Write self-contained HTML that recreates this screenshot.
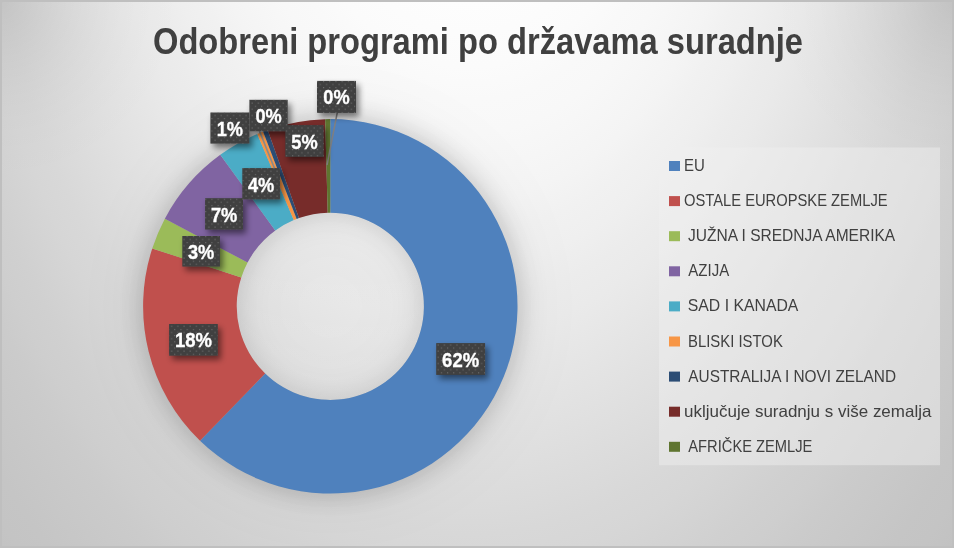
<!DOCTYPE html>
<html><head><meta charset="utf-8"><style>
html,body{margin:0;padding:0;width:954px;height:548px;overflow:hidden;background:#d0d0d0}
svg{display:block;will-change:transform}
.tt{font-family:"Liberation Sans",sans-serif;font-weight:bold;font-size:36px;fill:#404040}
.lt{font-family:"Liberation Sans",sans-serif;font-weight:bold;font-size:20px;fill:#ffffff;stroke:#ffffff;stroke-width:0.35px}
.lg{font-family:"Liberation Sans",sans-serif;font-size:16.5px;fill:#404040}
</style></head><body>
<svg width="954" height="548" viewBox="0 0 954 548">
<defs>
<radialGradient id="bg" gradientUnits="userSpaceOnUse" cx="470" cy="-300" r="720" gradientTransform="translate(470 -300) scale(1 1.6667) translate(-470 300)">
<stop offset="0.0000" stop-color="rgb(253.3,253.3,253.3)"/>
<stop offset="0.0278" stop-color="rgb(253.3,253.3,253.3)"/>
<stop offset="0.0556" stop-color="rgb(253.3,253.3,253.3)"/>
<stop offset="0.0833" stop-color="rgb(253.3,253.3,253.3)"/>
<stop offset="0.1111" stop-color="rgb(253.3,253.3,253.3)"/>
<stop offset="0.1389" stop-color="rgb(253.3,253.3,253.3)"/>
<stop offset="0.1667" stop-color="rgb(253.3,253.3,253.3)"/>
<stop offset="0.1944" stop-color="rgb(253.3,253.3,253.3)"/>
<stop offset="0.2222" stop-color="rgb(253.3,253.3,253.3)"/>
<stop offset="0.2500" stop-color="rgb(252.9,252.9,252.9)"/>
<stop offset="0.2778" stop-color="rgb(252.0,252.0,252.0)"/>
<stop offset="0.3056" stop-color="rgb(250.8,250.8,250.8)"/>
<stop offset="0.3333" stop-color="rgb(249.3,249.3,249.3)"/>
<stop offset="0.3611" stop-color="rgb(247.6,247.6,247.6)"/>
<stop offset="0.3889" stop-color="rgb(245.6,245.6,245.6)"/>
<stop offset="0.4167" stop-color="rgb(243.5,243.5,243.5)"/>
<stop offset="0.4444" stop-color="rgb(241.2,241.2,241.2)"/>
<stop offset="0.4722" stop-color="rgb(238.7,238.7,238.7)"/>
<stop offset="0.5000" stop-color="rgb(236.1,236.1,236.1)"/>
<stop offset="0.5278" stop-color="rgb(233.5,233.5,233.5)"/>
<stop offset="0.5556" stop-color="rgb(230.7,230.7,230.7)"/>
<stop offset="0.5833" stop-color="rgb(227.8,227.8,227.8)"/>
<stop offset="0.6111" stop-color="rgb(225.0,225.0,225.0)"/>
<stop offset="0.6389" stop-color="rgb(222.1,222.1,222.1)"/>
<stop offset="0.6667" stop-color="rgb(219.2,219.2,219.2)"/>
<stop offset="0.6944" stop-color="rgb(216.3,216.3,216.3)"/>
<stop offset="0.7222" stop-color="rgb(213.5,213.5,213.5)"/>
<stop offset="0.7500" stop-color="rgb(210.8,210.8,210.8)"/>
<stop offset="0.7778" stop-color="rgb(208.2,208.2,208.2)"/>
<stop offset="0.8056" stop-color="rgb(205.6,205.6,205.6)"/>
<stop offset="0.8333" stop-color="rgb(203.3,203.3,203.3)"/>
<stop offset="0.8611" stop-color="rgb(201.0,201.0,201.0)"/>
<stop offset="0.8889" stop-color="rgb(199.0,199.0,199.0)"/>
<stop offset="0.9167" stop-color="rgb(197.2,197.2,197.2)"/>
<stop offset="0.9444" stop-color="rgb(195.6,195.6,195.6)"/>
<stop offset="0.9722" stop-color="rgb(194.3,194.3,194.3)"/>
<stop offset="1.0000" stop-color="rgb(193.2,193.2,193.2)"/>
</radialGradient>
<radialGradient id="cn1" gradientUnits="userSpaceOnUse" cx="0" cy="0" r="200">
<stop offset="0.00" stop-color="#000" stop-opacity="0.0943"/>
<stop offset="0.10" stop-color="#000" stop-opacity="0.0764"/>
<stop offset="0.20" stop-color="#000" stop-opacity="0.0604"/>
<stop offset="0.30" stop-color="#000" stop-opacity="0.0462"/>
<stop offset="0.40" stop-color="#000" stop-opacity="0.0340"/>
<stop offset="0.50" stop-color="#000" stop-opacity="0.0236"/>
<stop offset="0.60" stop-color="#000" stop-opacity="0.0151"/>
<stop offset="0.70" stop-color="#000" stop-opacity="0.0085"/>
<stop offset="0.80" stop-color="#000" stop-opacity="0.0038"/>
<stop offset="0.90" stop-color="#000" stop-opacity="0.0009"/>
<stop offset="1.00" stop-color="#000" stop-opacity="0.0000"/>
</radialGradient>
<radialGradient id="cn2" gradientUnits="userSpaceOnUse" cx="954" cy="0" r="200">
<stop offset="0.00" stop-color="#000" stop-opacity="0.0943"/>
<stop offset="0.10" stop-color="#000" stop-opacity="0.0764"/>
<stop offset="0.20" stop-color="#000" stop-opacity="0.0604"/>
<stop offset="0.30" stop-color="#000" stop-opacity="0.0462"/>
<stop offset="0.40" stop-color="#000" stop-opacity="0.0340"/>
<stop offset="0.50" stop-color="#000" stop-opacity="0.0236"/>
<stop offset="0.60" stop-color="#000" stop-opacity="0.0151"/>
<stop offset="0.70" stop-color="#000" stop-opacity="0.0085"/>
<stop offset="0.80" stop-color="#000" stop-opacity="0.0038"/>
<stop offset="0.90" stop-color="#000" stop-opacity="0.0009"/>
<stop offset="1.00" stop-color="#000" stop-opacity="0.0000"/>
</radialGradient>
<filter id="dsh" filterUnits="userSpaceOnUse" x="0" y="0" width="954" height="548">
<feGaussianBlur in="SourceAlpha" stdDeviation="14" result="b1"/>
<feComponentTransfer in="b1" result="c1"><feFuncA type="linear" slope="0.22"/></feComponentTransfer>
<feGaussianBlur in="SourceAlpha" stdDeviation="40" result="b2"/>
<feComponentTransfer in="b2" result="c2"><feFuncA type="linear" slope="0.06"/></feComponentTransfer>
<feMerge><feMergeNode in="c1"/><feMergeNode in="c2"/></feMerge>
</filter>
<filter id="dsh2" filterUnits="userSpaceOnUse" x="0" y="0" width="954" height="548">
<feGaussianBlur in="SourceAlpha" stdDeviation="14" result="b1"/>
<feComponentTransfer in="b1" result="c1"><feFuncA type="linear" slope="0.13"/></feComponentTransfer>
<feGaussianBlur in="SourceAlpha" stdDeviation="40" result="b2"/>
<feComponentTransfer in="b2" result="c2"><feFuncA type="linear" slope="0.04"/></feComponentTransfer>
<feMerge><feMergeNode in="c1"/><feMergeNode in="c2"/></feMerge>
</filter>
<clipPath id="outside"><path clip-rule="evenodd" d="M0,0 H954 V548 H0 Z M330.3,212.70000000000002 A93.6,93.6 0 1 0 330.3,399.9 A93.6,93.6 0 1 0 330.3,212.70000000000002 Z"/></clipPath>
<linearGradient id="holelift" gradientUnits="userSpaceOnUse" x1="0" y1="260" x2="0" y2="400"><stop offset="0" stop-color="#fff" stop-opacity="0"/><stop offset="1" stop-color="#fff" stop-opacity="0.12"/></linearGradient>
<clipPath id="holeclip"><circle cx="330.3" cy="306.3" r="93.6"/></clipPath>
<filter id="lsh" x="-50%" y="-50%" width="200%" height="200%">
<feGaussianBlur in="SourceAlpha" stdDeviation="3.2"/>
<feOffset dx="3" dy="3.5"/>
<feComponentTransfer><feFuncA type="linear" slope="0.5"/></feComponentTransfer>
<feMerge><feMergeNode/><feMergeNode in="SourceGraphic"/></feMerge>
</filter>
<pattern id="dots" patternUnits="userSpaceOnUse" x="0.6" y="0.3" width="6.2" height="6.2">
<rect x="0" y="0" width="1.1" height="1.1" fill="#6e6e6e"/>
<rect x="3.1" y="3.1" width="1.1" height="1.1" fill="#6e6e6e"/>
</pattern>
</defs>
<rect x="0" y="0" width="954" height="548" fill="url(#bg)"/>
<rect x="0" y="0" width="200" height="200" fill="url(#cn1)"/>
<rect x="754" y="0" width="200" height="200" fill="url(#cn2)"/>
<rect x="1" y="1" width="952" height="546" fill="none" stroke="#bfbfbf" stroke-width="2"/>
<text x="153" y="53.75" class="tt" textLength="650" lengthAdjust="spacingAndGlyphs">Odobreni programi po državama suradnje</text>
<g clip-path="url(#outside)"><path d="M330.3,119.10000000000002 A187.2,187.2 0 1 1 330.3,493.5 A187.2,187.2 0 1 1 330.3,119.10000000000002 Z M330.3,212.70000000000002 A93.6,93.6 0 1 0 330.3,399.9 A93.6,93.6 0 1 0 330.3,212.70000000000002 Z" fill="#000" fill-rule="evenodd" filter="url(#dsh)"/></g>
<g clip-path="url(#holeclip)"><path d="M330.3,119.10000000000002 A187.2,187.2 0 1 1 330.3,493.5 A187.2,187.2 0 1 1 330.3,119.10000000000002 Z M330.3,212.70000000000002 A93.6,93.6 0 1 0 330.3,399.9 A93.6,93.6 0 1 0 330.3,212.70000000000002 Z" fill="#000" fill-rule="evenodd" filter="url(#dsh2)"/></g>
<circle cx="330.3" cy="306.3" r="93.6" fill="#000" fill-opacity="0.013"/>
<circle cx="330.3" cy="306.3" r="93.6" fill="url(#holelift)"/>
<path d="M330.30,119.10 A187.2,187.2 0 1 1 200.03,440.73 L265.16,373.52 A93.6,93.6 0 1 0 330.30,212.70 Z" fill="#4F81BD"/>
<path d="M200.03,440.73 A187.2,187.2 0 0 1 152.26,248.45 L241.28,277.38 A93.6,93.6 0 0 0 265.16,373.52 Z" fill="#C0504D"/>
<path d="M152.26,248.45 A187.2,187.2 0 0 1 164.86,218.70 L247.58,262.50 A93.6,93.6 0 0 0 241.28,277.38 Z" fill="#9BBB59"/>
<path d="M164.86,218.70 A187.2,187.2 0 0 1 220.27,154.85 L275.28,230.58 A93.6,93.6 0 0 0 247.58,262.50 Z" fill="#8064A2"/>
<path d="M220.27,154.85 A187.2,187.2 0 0 1 257.25,133.94 L293.78,220.12 A93.6,93.6 0 0 0 275.28,230.58 Z" fill="#4BACC6"/>
<path d="M257.25,133.94 A187.2,187.2 0 0 1 263.03,131.60 L296.67,218.95 A93.6,93.6 0 0 0 293.78,220.12 Z" fill="#F79646"/>
<path d="M263.03,131.60 A187.2,187.2 0 0 1 267.66,129.89 L298.98,218.09 A93.6,93.6 0 0 0 296.67,218.95 Z" fill="#2C4D75"/>
<path d="M267.66,129.89 A187.2,187.2 0 0 1 325.13,119.17 L327.71,212.74 A93.6,93.6 0 0 0 298.98,218.09 Z" fill="#772C2A"/>
<path d="M325.13,119.17 A187.2,187.2 0 0 1 330.30,119.10 L330.30,212.70 A93.6,93.6 0 0 0 327.71,212.74 Z" fill="#5F7530"/>
<line x1="337.3" y1="112.5" x2="327" y2="165" stroke="#808080" stroke-width="1.5"/>
<line x1="259.42" y1="131.00" x2="276.00" y2="172.00" stroke="#8a8a8a" stroke-width="1.7"/>
<rect x="436.2" y="343.1" width="48.9" height="31.8" fill="#404040" filter="url(#lsh)"/><rect x="436.2" y="343.1" width="48.9" height="31.8" fill="url(#dots)"/><text x="460.6" y="366.5" text-anchor="middle" textLength="37" lengthAdjust="spacingAndGlyphs" class="lt">62%</text>
<rect x="169.1" y="324.0" width="48.7" height="31.7" fill="#404040" filter="url(#lsh)"/><rect x="169.1" y="324.0" width="48.7" height="31.7" fill="url(#dots)"/><text x="193.4" y="347.4" text-anchor="middle" textLength="37" lengthAdjust="spacingAndGlyphs" class="lt">18%</text>
<rect x="182.3" y="236.0" width="37.6" height="30.6" fill="#404040" filter="url(#lsh)"/><rect x="182.3" y="236.0" width="37.6" height="30.6" fill="url(#dots)"/><text x="201.1" y="259.4" text-anchor="middle" textLength="26.3" lengthAdjust="spacingAndGlyphs" class="lt">3%</text>
<rect x="205.1" y="198.2" width="37.9" height="31.4" fill="#404040" filter="url(#lsh)"/><rect x="205.1" y="198.2" width="37.9" height="31.4" fill="url(#dots)"/><text x="224.1" y="221.6" text-anchor="middle" textLength="26.3" lengthAdjust="spacingAndGlyphs" class="lt">7%</text>
<rect x="242.3" y="168.1" width="37.7" height="31.3" fill="#404040" filter="url(#lsh)"/><rect x="242.3" y="168.1" width="37.7" height="31.3" fill="url(#dots)"/><text x="261.1" y="191.5" text-anchor="middle" textLength="26.3" lengthAdjust="spacingAndGlyphs" class="lt">4%</text>
<rect x="210.4" y="112.5" width="39.0" height="31.1" fill="#404040" filter="url(#lsh)"/><rect x="210.4" y="112.5" width="39.0" height="31.1" fill="url(#dots)"/><text x="229.9" y="135.9" text-anchor="middle" textLength="26.3" lengthAdjust="spacingAndGlyphs" class="lt">1%</text>
<rect x="249.4" y="99.8" width="38.3" height="31.5" fill="#404040" filter="url(#lsh)"/><rect x="249.4" y="99.8" width="38.3" height="31.5" fill="url(#dots)"/><text x="268.6" y="123.2" text-anchor="middle" textLength="26.3" lengthAdjust="spacingAndGlyphs" class="lt">0%</text>
<rect x="285.3" y="125.1" width="38.3" height="31.7" fill="#404040" filter="url(#lsh)"/><rect x="285.3" y="125.1" width="38.3" height="31.7" fill="url(#dots)"/><text x="304.5" y="148.5" text-anchor="middle" textLength="26.3" lengthAdjust="spacingAndGlyphs" class="lt">5%</text>
<rect x="317.0" y="80.9" width="39.0" height="32.0" fill="#404040" filter="url(#lsh)"/><rect x="317.0" y="80.9" width="39.0" height="32.0" fill="url(#dots)"/><text x="336.5" y="104.3" text-anchor="middle" textLength="26.3" lengthAdjust="spacingAndGlyphs" class="lt">0%</text>
<rect x="659" y="147.5" width="281" height="317.7" fill="#efefef" fill-opacity="0.46"/>
<rect x="669" y="161.0" width="11" height="10" fill="#4F81BD"/>
<text x="684.0" y="171.0" class="lg" textLength="20.8" lengthAdjust="spacingAndGlyphs">EU</text>
<rect x="669" y="196.1" width="11" height="10" fill="#C0504D"/>
<text x="684.0" y="206.1" class="lg" textLength="203.6" lengthAdjust="spacingAndGlyphs">OSTALE EUROPSKE ZEMLJE</text>
<rect x="669" y="231.2" width="11" height="10" fill="#9BBB59"/>
<text x="688.0" y="241.2" class="lg" textLength="207.2" lengthAdjust="spacingAndGlyphs">JUŽNA I SREDNJA AMERIKA</text>
<rect x="669" y="266.3" width="11" height="10" fill="#8064A2"/>
<text x="688.3" y="276.3" class="lg" textLength="40.9" lengthAdjust="spacingAndGlyphs">AZIJA</text>
<rect x="669" y="301.4" width="11" height="10" fill="#4BACC6"/>
<text x="687.8" y="311.4" class="lg" textLength="110.6" lengthAdjust="spacingAndGlyphs">SAD I KANADA</text>
<rect x="669" y="336.5" width="11" height="10" fill="#F79646"/>
<text x="688.0" y="346.5" class="lg" textLength="94.8" lengthAdjust="spacingAndGlyphs">BLISKI ISTOK</text>
<rect x="669" y="371.6" width="11" height="10" fill="#2C4D75"/>
<text x="688.3" y="381.6" class="lg" textLength="207.8" lengthAdjust="spacingAndGlyphs">AUSTRALIJA I NOVI ZELAND</text>
<rect x="669" y="406.7" width="11" height="10" fill="#772C2A"/>
<text x="684.1" y="416.7" class="lg" textLength="247.3" lengthAdjust="spacingAndGlyphs">uključuje suradnju s više zemalja</text>
<rect x="669" y="441.8" width="11" height="10" fill="#5F7530"/>
<text x="688.3" y="451.8" class="lg" textLength="124.1" lengthAdjust="spacingAndGlyphs">AFRIČKE ZEMLJE</text>
</svg>
</body></html>
